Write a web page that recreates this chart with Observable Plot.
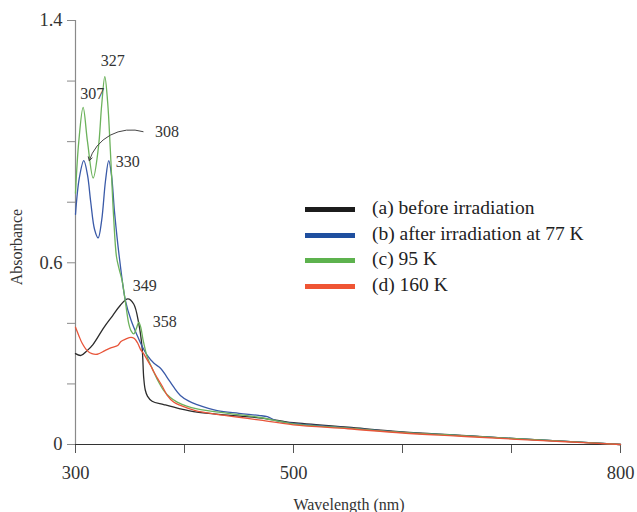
<!DOCTYPE html>
<html>
<head>
<meta charset="utf-8">
<script src="https://cdn.jsdelivr.net/npm/d3@7"></script>
<script src="https://cdn.jsdelivr.net/npm/@observablehq/plot@0.6"></script>
<style>
  body { margin: 0; background: #fff; }
  #wrap { position: relative; width: 637px; height: 512px; font-family: "Liberation Serif", "DejaVu Serif", serif; color: #333; }
  #wrap svg { position: absolute; left: 0; top: 0; }
  .ttl { position: absolute; font-size: 16px; color: #333; white-space: nowrap; }
  .leg { position: absolute; left: 305px; font-size: 19.5px; white-space: nowrap; color: #222; }
  .leg span.sw { position: absolute; left: 0; width: 50px; height: 5px; top: -2.5px; }
  .leg span.lb { position: absolute; left: 67px; top: -12px; }
</style>
</head>
<body>
<div id="wrap"></div>
<script>
// Series (a) before irradiation
const nmA = [300, 305, 310.7, 316, 326, 334, 341, 348, 353.4, 358, 361.1, 362.6, 364, 366, 370.3, 381, 396, 411.5, 440, 468, 488, 500, 550, 600, 650, 700, 750, 800];
const absA = [0.30, 0.294, 0.31, 0.33, 0.386, 0.425, 0.459, 0.481, 0.464, 0.40, 0.32, 0.22, 0.18, 0.16, 0.143, 0.132, 0.118, 0.107, 0.097, 0.088, 0.078, 0.072, 0.057, 0.042, 0.031, 0.02, 0.01, 0.0];
// Series (b) after irradiation at 77 K
const nmB = [300, 303.5, 307.6, 311, 314, 317.5, 320.8, 324, 327.5, 330.5, 333, 336, 340.6, 345.8, 351, 356.6, 361, 365.7, 372, 378, 384, 390, 396.2, 404, 411.5, 430, 450, 468, 476, 484, 500, 550, 600, 650, 700, 750, 800];
const absB = [0.76, 0.88, 0.937, 0.89, 0.80, 0.71, 0.682, 0.74, 0.87, 0.937, 0.89, 0.76, 0.607, 0.475, 0.41, 0.36, 0.325, 0.295, 0.268, 0.252, 0.222, 0.19, 0.162, 0.143, 0.132, 0.112, 0.103, 0.096, 0.092, 0.079, 0.07, 0.055, 0.04, 0.03, 0.02, 0.01, 0.0];
// Series (c) 95 K
const nmC = [300, 303, 307, 311, 316.2, 321, 324, 326.9, 329.5, 332, 335, 337.6, 340, 342.8, 345.8, 348.8, 351, 353.4, 356, 358, 360, 362, 365.7, 369, 375, 381, 387, 393.3, 402, 411.5, 440, 468, 500, 550, 600, 650, 700, 750, 800];
const absC = [0.83, 1.0, 1.113, 1.0, 0.88, 0.98, 1.12, 1.215, 1.13, 0.97, 0.75, 0.62, 0.58, 0.54, 0.47, 0.40, 0.375, 0.365, 0.385, 0.404, 0.385, 0.345, 0.29, 0.262, 0.215, 0.178, 0.155, 0.14, 0.127, 0.118, 0.103, 0.09, 0.068, 0.054, 0.04, 0.03, 0.02, 0.01, 0.0];
// Series (d) 160 K
const nmD = [300, 303, 306, 310.7, 315, 320, 327, 333, 338.7, 341.7, 346, 350.9, 354, 357, 359.5, 362.5, 365.7, 369, 371.8, 375, 380, 384, 390, 396.2, 410, 426.8, 450, 468, 500, 550, 600, 650, 700, 750, 800];
const absD = [0.387, 0.36, 0.335, 0.31, 0.30, 0.298, 0.31, 0.32, 0.327, 0.34, 0.348, 0.354, 0.35, 0.335, 0.315, 0.3, 0.28, 0.26, 0.24, 0.22, 0.19, 0.163, 0.14, 0.129, 0.112, 0.101, 0.09, 0.081, 0.065, 0.052, 0.038, 0.028, 0.018, 0.009, 0.0];

const seriesNames = ["(a) before irradiation", "(b) after irradiation at 77 K", "(c) 95 K", "(d) 160 K"];
const lineColors = ["#2b2b2b", "#3a5aa8", "#6cb25c", "#e8553a"];
const swatchColors = ["#1c1c1c", "#1f4f9f", "#5db24e", "#ef5534"];

// Peak annotations (label, wavelength, absorbance at anchor)
const peakLabels = ["307", "327", "330", "349", "358"];
const peakNm = [307, 326.9, 330.5, 348, 358];
const peakAbs = [1.113, 1.215, 0.937, 0.481, 0.404];
const peakDx = [9, 8, 19, 17, 26];
const peakDy = [-14, -16, 1, -13, 0];
// Arrow annotation "308"
const arrowLabel = "308";
const arrowFromNm = 362, arrowFromAbs = 1.033, arrowToNm = 312.6, arrowToAbs = 0.937;

const xTicks = [300, 400, 500, 600, 700, 800];
const xTickLabels = ["300", "", "500", "", "", "800"];
const yTicks = [0, 0.2, 0.4, 0.6, 0.8, 1.0, 1.2, 1.4];
const yTickLabels = ["0", "", "", "0.6", "", "", "", "1.4"];

const rows = [];
[[nmA, absA], [nmB, absB], [nmC, absC], [nmD, absD]].forEach(([xs, ys], i) => {
  xs.forEach((x, j) => rows.push({series: seriesNames[i], nm: x, abs: ys[j]}));
});
const peaks = peakLabels.map((l, i) => ({label: l, nm: peakNm[i], abs: peakAbs[i], dx: peakDx[i], dy: peakDy[i]}));

const chart = Plot.plot({
  width: 637,
  height: 512,
  marginLeft: 75,
  marginRight: 17,
  marginTop: 20,
  marginBottom: 68,
  style: {fontFamily: "Liberation Serif, serif", fontSize: "18.5px", color: "#333", background: "white"},
  x: {domain: [300, 800]},
  y: {domain: [0, 1.4]},
  color: {domain: seriesNames, range: lineColors},
  marks: [
    Plot.ruleX([300], {y1: 0, y2: 1.4, stroke: "#8a8a8a", strokeWidth: 1.2}),
    Plot.axisY({ticks: yTicks, tickSize: 8, tickPadding: 5, stroke: "#8a8a8a", fill: "#333", label: null,
      tickFormat: (d) => yTickLabels[yTicks.findIndex(t => Math.abs(t - d) < 1e-9)] ?? ""}),
    Plot.axisX({ticks: xTicks, tickSize: 9, tickPadding: 12, stroke: "#555", fill: "#333", label: null,
      tickFormat: (d) => xTickLabels[xTicks.indexOf(d)] ?? ""}),
    Plot.ruleY([0], {stroke: "#333", strokeWidth: 1.2}),
    Plot.line(rows, {x: "nm", y: "abs", z: "series", stroke: "series", strokeWidth: 1.3, curve: "catmull-rom"}),
    Plot.text(peaks, {x: "nm", y: "abs", text: "label", fill: "#333", fontSize: 16,
      render: (index, scales, values, dims, ctx, next) => {
        const g = next(index, scales, values, dims, ctx);
        d3.select(g).selectAll("text").each(function(_, k) {
          const i = index[k];
          const p = peaks[i];
          d3.select(this).attr("transform", `translate(${values.x[i] + p.dx},${values.y[i] + p.dy})`);
        });
        return g;
      }}),
    Plot.arrow([{x1: arrowFromNm, y1: arrowFromAbs, x2: arrowToNm, y2: arrowToAbs}],
      {x1: "x1", y1: "y1", x2: "x2", y2: "y2", bend: -45, stroke: "#444", strokeWidth: 1, headLength: 6}),
    Plot.text([{nm: arrowFromNm, abs: arrowFromAbs, label: arrowLabel}], {x: "nm", y: "abs", text: "label", dx: 24, dy: 0, fill: "#333", fontSize: 16})
  ]
});

const wrap = document.getElementById("wrap");
wrap.appendChild(chart);

// Axis titles
const yt = document.createElement("div");
yt.className = "ttl";
yt.textContent = "Absorbance";
yt.style.left = "17px"; yt.style.top = "247px";
yt.style.transform = "translate(-50%,-50%) rotate(-90deg)";
wrap.appendChild(yt);
const xt = document.createElement("div");
xt.className = "ttl";
xt.textContent = "Wavelength (nm)";
xt.style.left = "349px"; xt.style.top = "505px";
xt.style.transform = "translate(-50%,-50%)";
wrap.appendChild(xt);

// Legend
const legTops = [209, 235, 260, 286];
seriesNames.forEach((n, i) => {
  const r = document.createElement("div");
  r.className = "leg";
  r.style.top = legTops[i] + "px";
  r.innerHTML = `<span class="sw" style="background:${swatchColors[i]}"></span><span class="lb">${n}</span>`;
  wrap.appendChild(r);
});
</script>
</body>
</html>
